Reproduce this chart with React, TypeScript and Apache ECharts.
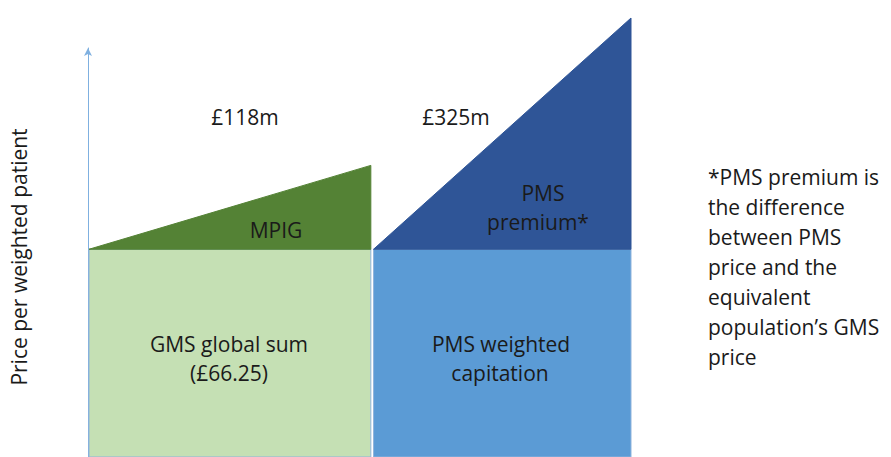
import React, { useEffect, useRef } from "react";
import * as echarts from "echarts";

// Segment x-extents (share of weighted population, arbitrary units 0-100)
const segmentNames = ["GMS global sum", "MPIG", "PMS weighted capitation", "PMS premium"];
const segX0 = [0, 0, 52.5, 52.5];
const segX1 = [52, 52, 100, 100];
// price per weighted patient: bottom, top-left, top-right
const segYBottom = [0, 66.25, 0, 66.25];
const segYTopLeft = [66.25, 66.25, 66.25, 66.25];
const segYTopRight = [66.25, 93, 66.25, 140];
const segColors = ["#c5e0b4", "#548235", "#5b9bd5", "#2f5597"];

const totals = ["£118m", "£325m"];
const noteLines = [
  "*PMS premium is",
  "the difference",
  "between PMS",
  "price and the",
  "equivalent",
  "population’s GMS",
  "price",
];

const FONT = "'Open Sans', Lato, sans-serif";
const FS = 21;

export default function App() {
  const ref = useRef<HTMLDivElement>(null);
  useEffect(() => {
    if (!ref.current) return;
    const chart = echarts.init(ref.current, undefined, { renderer: "svg" });
    const data = segmentNames.map((n, i) => [segX0[i], segX1[i], segYBottom[i], segYTopLeft[i], segYTopRight[i], i]);
    const textStyle = (t: string, x: number, y: number, extra: any = {}) => ({
      type: "text",
      x,
      y,
      style: { text: t, fill: "#1a1a1a", font: `${FS}px ${FONT}`, align: "center", verticalAlign: "middle", ...extra },
      z: 100,
    });
    chart.setOption({
      animation: false,
      grid: [
        { left: 89, width: 542, top: 18, bottom: 0 },
        { left: 88, width: 542, top: 48, bottom: 0 },
      ],
      xAxis: [
        { type: "value", min: 0, max: 100, show: false, gridIndex: 0 },
        { type: "value", min: 0, max: 100, show: false, gridIndex: 1 },
      ],
      yAxis: [
        { type: "value", min: 0, max: 140, show: false, gridIndex: 0 },
        {
          type: "value",
          min: 0,
          max: 140,
          gridIndex: 1,
          axisLine: { show: true, symbol: ["none", "arrow"], symbolSize: [6, 8], lineStyle: { color: "#7fb0e0", width: 1 } },
          axisTick: { show: false },
          axisLabel: { show: false },
          splitLine: { show: false },
        },
      ],
      series: [
        {
          type: "custom",
          xAxisIndex: 0,
          yAxisIndex: 0,
          data,
          renderItem: (params: any, api: any) => {
            const x0 = api.value(0), x1 = api.value(1), yb = api.value(2), ytl = api.value(3), ytr = api.value(4);
            const idx = api.value(5);
            const pts = [
              api.coord([x0, yb]),
              api.coord([x1, yb]),
              api.coord([x1, ytr]),
              api.coord([x0, ytl]),
            ];
            return {
              type: "polygon",
              shape: { points: pts },
              style: { fill: segColors[idx], stroke: idx % 2 === 0 ? "#8fb3dc" : segColors[idx], lineWidth: 1 },
            };
          },
        },
        { type: "line", xAxisIndex: 1, yAxisIndex: 1, data: [], silent: true },
      ],
      graphic: [
        textStyle(totals[0], 245, 117),
        textStyle(totals[1], 456, 117),
        textStyle("MPIG", 276, 230),
        textStyle("PMS", 543, 193),
        textStyle("premium*", 538, 222),
        textStyle("GMS global sum", 229, 344),
        textStyle("(£66.25)", 229, 373),
        textStyle("PMS weighted", 501, 344),
        textStyle("capitation", 500, 373),
        {
          type: "text",
          x: 19,
          y: 257,
          rotation: Math.PI / 2,
          style: { text: "Price per weighted patient", fill: "#1a1a1a", font: `${FS}px ${FONT}`, align: "center", verticalAlign: "middle" },
        },
        ...noteLines.map((t, i) => ({
          type: "text",
          x: 708,
          y: 177 + i * 30,
          style: { text: t, fill: "#1a1a1a", font: `${FS}px ${FONT}`, align: "left", verticalAlign: "middle" },
        })),
      ],
    });
    return () => chart.dispose();
  }, []);
  return <div ref={ref} style={{ width: 891, height: 457, position: "absolute", left: 0, top: 0 }} />;
}
